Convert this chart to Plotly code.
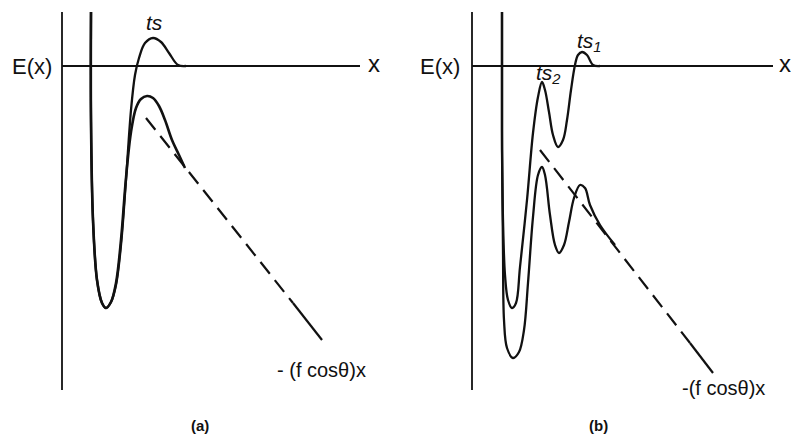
import plotly.graph_objects as go

# ---------------- panel (a): single barrier ----------------
# energy profile without force (x, E)
a_free_x = [29, 29, 31, 35, 40, 44, 49, 54, 59, 64, 69, 73, 77, 83, 91, 99, 107, 116, 124]
a_free_E = [54, -54, -154, -214, -237, -242, -236, -219, -179, -114, -44, -9, 8, 23, 28, 24, 13, 1, 0]

# energy profile tilted by the applied force
a_tilt_x = [29, 29, 31, 35, 40, 44, 49, 54, 59, 64, 69, 74, 79, 85, 91, 97, 103, 110, 117, 123]
a_tilt_E = [54, -54, -154, -214, -237, -242, -236, -217, -174, -112, -66, -42, -33, -30, -32, -40, -54, -74, -89, -102]

# force term -(f cos theta) x
a_force_x = [84, 231]
a_force_E = [-52, -237]
a_force_end_x = [231, 260]
a_force_end_E = [-237, -274]

# ---------------- panel (b): two barriers ----------------
b_free_x = [30, 30, 31, 33, 36, 40, 44, 48, 55, 61, 66, 70, 73, 77, 81, 86, 91, 95, 99, 103, 106, 110, 115, 121, 128]
b_free_E = [54, -64, -154, -209, -234, -242, -237, -201, -134, -67, -31, -16, -24, -46, -69, -81, -74, -54, -24, 1, 11, 14, 11, 1, 0]

b_tilt_x = [30, 30, 31, 32, 35, 41, 47, 52, 56, 61, 66, 70, 73, 78, 83, 87, 92, 97, 102, 108, 113, 118, 128, 143]
b_tilt_E = [54, -84, -184, -254, -282, -292, -286, -264, -217, -151, -109, -101, -109, -149, -179, -187, -179, -156, -132, -119, -122, -139, -159, -179]

b_force_x = [68, 218]
b_force_E = [-84, -277]
b_force_end_x = [218, 241]
b_force_end_E = [-277, -307]

# axes of each sketch
axis_v_E = [54, -324]
a_axis_h_x = [0, 298]
b_axis_h_x = [0, 301]

INK = "#111111"
FONT = "Liberation Sans, Arial, Helvetica, sans-serif"

fig = go.Figure()


def add_line(x, y, xa, ya, width=2.0, dash=None, spline=False):
    line = dict(color=INK, width=width)
    if dash:
        line["dash"] = dash
    if spline:
        line["shape"] = "spline"
        line["smoothing"] = 1.0
    fig.add_trace(go.Scatter(x=x, y=y, mode="lines", line=line,
                             xaxis=xa, yaxis=ya, hoverinfo="skip",
                             showlegend=False))


for xa, ya, h_x in (("x", "y", a_axis_h_x), ("x2", "y2", b_axis_h_x)):
    add_line([0, 0], axis_v_E, xa, ya, width=1.8)
    add_line(h_x, [0, 0], xa, ya, width=1.8)

# panel (a)
add_line(a_free_x, a_free_E, "x", "y", width=2.3, spline=True)
add_line(a_tilt_x, a_tilt_E, "x", "y", width=2.6, spline=True)
add_line(a_force_x, a_force_E, "x", "y", width=2.2, dash="15px,8px")
add_line(a_force_end_x, a_force_end_E, "x", "y", width=2.2)

# panel (b)
add_line(b_free_x, b_free_E, "x2", "y2", width=2.3, spline=True)
add_line(b_tilt_x, b_tilt_E, "x2", "y2", width=2.3, spline=True)
add_line(b_force_x, b_force_E, "x2", "y2", width=2.2, dash="15px,8px")
add_line(b_force_end_x, b_force_end_E, "x2", "y2", width=2.2)


def label(text, x, y, xref, yref, size=21, bold=False):
    if bold:
        text = "<b>" + text + "</b>"
    fig.add_annotation(text=text, x=x, y=y, xref=xref, yref=yref,
                       showarrow=False, xanchor="center", yanchor="middle",
                       font=dict(family=FONT, size=size, color=INK))


# panel (a) text
label("E(x)", -30, 0, "x", "y", size=22)
label("x", 312, 3, "x", "y", size=24)
label("<i>ts</i>", 92, 44, "x", "y", size=21)
label("- (f cosθ)x", 259, -304, "x", "y", size=20)
label("(a)", 138, -359, "x", "y", size=15, bold=True)

# panel (b) text
label("E(x)", -32, 0, "x2", "y2", size=22)
label("x", 313, 3, "x2", "y2", size=24)
label("<i>ts</i><sub><i>1</i></sub>", 117, 24, "x2", "y2", size=21)
label("<i>ts</i><sub><i>2</i></sub>", 76, -8, "x2", "y2", size=21)
label("-(f cosθ)x", 251, -322, "x2", "y2", size=20)
label("(b)", 126, -359, "x2", "y2", size=15, bold=True)

hidden = dict(visible=False, showgrid=False, zeroline=False, fixedrange=True)
split = 395 / 791
fig.update_layout(
    width=791, height=434, autosize=False,
    margin=dict(l=0, r=0, t=0, b=0),
    paper_bgcolor="white", plot_bgcolor="white",
    xaxis=dict(domain=[0, split], range=[-62, 333], **hidden),
    yaxis=dict(domain=[0, 1], range=[-368, 66], **hidden),
    xaxis2=dict(domain=[split, 1], range=[-77, 319], anchor="y2", **hidden),
    yaxis2=dict(domain=[0, 1], range=[-368, 66], anchor="x2", **hidden),
)

fig.write_html("out.html")
